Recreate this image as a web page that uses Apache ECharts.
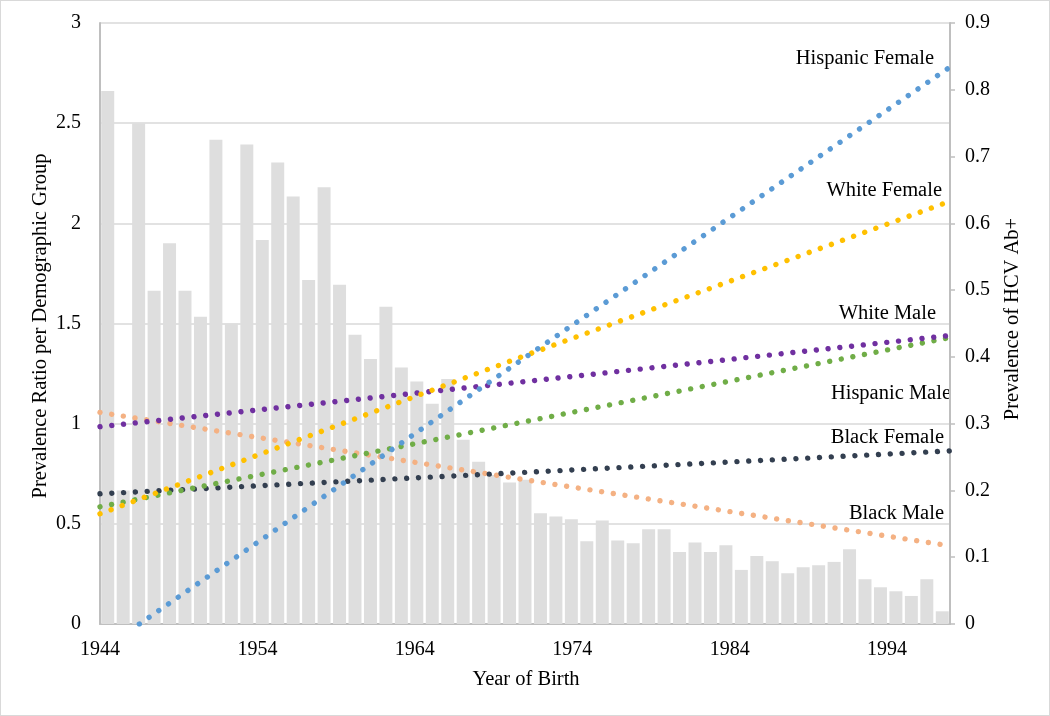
<!DOCTYPE html>
<html>
<head>
<meta charset="utf-8">
<script src="https://cdn.jsdelivr.net/npm/echarts@6/dist/echarts.min.js"></script>
<style>
  html, body { margin: 0; padding: 0; background: #fff; }
  #chart { width: 1050px; height: 716px; box-sizing: border-box; border: 1px solid #d9d9d9; }
</style>
</head>
<body>
<div id="chart"></div>
<script>
// ---- Data ----
const barYears = [];
for (let y = 1944; y <= 1998; y++) barYears.push(String(y));
const hcvPrevalence = [
  0.798, 0.200, 0.750, 0.499, 0.570, 0.499, 0.460, 0.725, 0.450, 0.718,
  0.575, 0.691, 0.640, 0.515, 0.654, 0.508, 0.433, 0.397, 0.475, 0.384,
  0.363, 0.330, 0.367, 0.276, 0.243, 0.223, 0.212, 0.216, 0.166, 0.161,
  0.157, 0.124, 0.155, 0.125, 0.121, 0.142, 0.142, 0.108, 0.122, 0.108,
  0.118, 0.081, 0.102, 0.094, 0.076, 0.085, 0.088, 0.093, 0.112, 0.067,
  0.055, 0.049, 0.042, 0.067, 0.019
];
const lineYears = [1944, 1971, 1998];
const hispFemaleYears = [1946.5, 1971, 1998];
const hispanicFemale = [0, 1.33, 2.78];
const whiteFemale = [0.55, 1.34, 2.11];
const whiteMale = [0.985, 1.21, 1.44];
const hispanicMale = [0.585, 1.01, 1.43];
const blackFemale = [0.65, 0.757, 0.864];
const blackMale = [1.056, 0.72, 0.39];
const leftTicks = ['0', '0.5', '1', '1.5', '2', '2.5', '3'];
const rightTicks = ['0', '0.1', '0.2', '0.3', '0.4', '0.5', '0.6', '0.7', '0.8', '0.9'];

const FONT = '"Liberation Serif", "Times New Roman", serif';
const pair = (xs, ys) => xs.map((x, i) => [x, ys[i]]);

function dotLine(name, xs, ys, color) {
  return {
    name, type: 'line', xAxisIndex: 0, yAxisIndex: 0,
    data: pair(xs, ys), showSymbol: false, symbol: 'none', silent: true,
    lineStyle: { color, width: 5.4, type: [0.01, 11.8], cap: 'round' },
    z: 3
  };
}

const chart = echarts.init(document.getElementById('chart'), null, { renderer: 'canvas' });
const textStyle = (t, x, y, align, rot) => ({
  type: 'text', x, y, rotation: rot || 0,
  style: { text: t, font: '20.5px ' + FONT, fill: '#000', textAlign: align, textVerticalAlign: 'middle' }
});

chart.setOption({
  animation: false,
  backgroundColor: '#fff',
  textStyle: { fontFamily: FONT },
  grid: { left: 99, right: 99, top: 22, bottom: 91 },
  xAxis: [
    {
      type: 'value', min: 1944, max: 1998, interval: 10, position: 'bottom',
      axisLine: { show: true, lineStyle: { color: '#bfbfbf', width: 2 } },
      axisTick: { show: false }, splitLine: { show: false },
      axisLabel: { color: '#000', fontSize: 20, fontFamily: FONT, margin: 16, showMaxLabel: false,
                   formatter: v => String(v) }
    },
    {
      type: 'category', data: barYears, show: false, boundaryGap: true
    }
  ],
  yAxis: [
    {
      type: 'value', min: 0, max: 3, interval: 0.5, position: 'left',
      axisLine: { show: true, lineStyle: { color: '#bfbfbf', width: 2 } },
      axisTick: { show: false },
      splitLine: { show: true, lineStyle: { color: '#d9d9d9', width: 1.5 } },
      axisLabel: { color: '#000', fontSize: 20, fontFamily: FONT, margin: 19,
                   formatter: v => leftTicks[Math.round(v * 2)] }
    },
    {
      type: 'value', min: 0, max: 0.9, interval: 0.1, position: 'right',
      axisLine: { show: true, lineStyle: { color: '#bfbfbf', width: 2 } },
      axisTick: { show: true, length: 5, inside: false, lineStyle: { color: '#bfbfbf', width: 1.5 } },
      splitLine: { show: false },
      axisLabel: { color: '#000', fontSize: 20, fontFamily: FONT, margin: 15,
                   formatter: v => rightTicks[Math.round(v * 10)] }
    }
  ],
  series: [
    {
      name: 'Prevalence of HCV Ab+', type: 'bar', xAxisIndex: 1, yAxisIndex: 1,
      data: hcvPrevalence, barCategoryGap: '16%', itemStyle: { color: '#dedede' }, z: 1, silent: true
    },
    dotLine('Black Male', lineYears, blackMale, '#f4b183'),
    dotLine('Black Female', lineYears, blackFemale, '#333f50'),
    dotLine('Hispanic Male', lineYears, hispanicMale, '#70ad47'),
    dotLine('White Male', lineYears, whiteMale, '#7030a0'),
    dotLine('White Female', lineYears, whiteFemale, '#ffc000'),
    dotLine('Hispanic Female', hispFemaleYears, hispanicFemale, '#5b9bd5')
  ],
  graphic: [
    textStyle('Hispanic Female', 933, 58, 'right'),
    textStyle('White Female', 941, 190, 'right'),
    textStyle('White Male', 935, 313, 'right'),
    textStyle('Hispanic Male', 950, 393, 'right'),
    textStyle('Black Female', 943, 437, 'right'),
    textStyle('Black Male', 943, 513, 'right'),
    textStyle('Year of Birth', 525, 679, 'center'),
    textStyle('Prevalence Ratio per Demographic Group', 40, 325, 'center', Math.PI / 2),
    textStyle('Prevalence of HCV Ab+', 1012, 318, 'center', Math.PI / 2)
  ]
});
</script>
</body>
</html>
